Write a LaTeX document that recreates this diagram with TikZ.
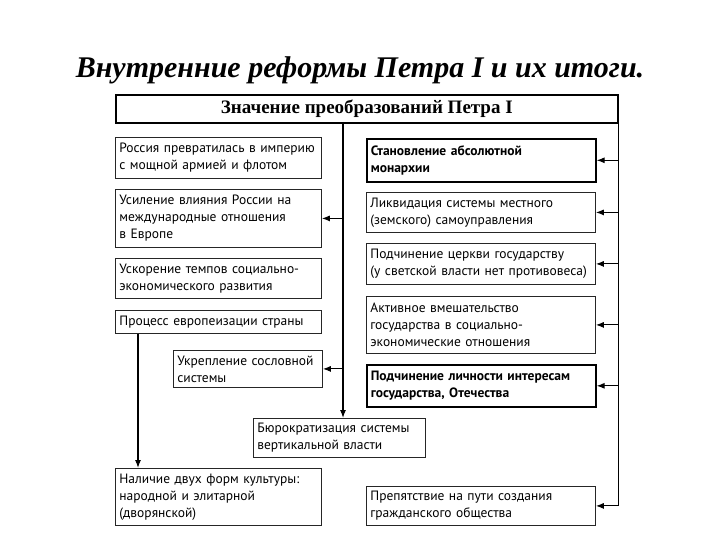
\documentclass[tikz,border=0pt]{standalone}
\usepackage{fontspec}
\setmainfont{Liberation Serif}
\newfontfamily\boxfont{PT Sans}
\usetikzlibrary{arrows.meta}

\begin{document}
\begin{tikzpicture}[x=1pt,y=-1pt]
\tikzset{>={Latex[length=8pt,width=6pt]}}
\tikzset{
  box/.style={draw=black!85, line width=0.8pt, anchor=north west, align=left,
    inner xsep=4pt, inner ysep=1pt, font=\boxfont\fontsize{13.5}{17}\selectfont},
  boldbox/.style={box, draw=black, line width=1.6pt,
    font=\boxfont\bfseries\fontsize{13.5}{17}\selectfont},
  link/.style={line width=1.1pt}
}
\useasboundingbox (0,0) rectangle (720,540);

\node[font=\bfseries\itshape\fontsize{30}{34}\selectfont] (title) at (360,70)
  {Внутренние реформы Петра I и их итоги.};

\node[draw, line width=1.6pt, anchor=north west, minimum width=502pt, minimum height=28pt,
  inner sep=0pt, font=\bfseries\fontsize{19}{22}\selectfont] (head) at (115,94)
  {Значение преобразований Петра I};

% left column
\node[box, text width=198pt, minimum height=41pt] (l1) at (115,137)
  {Россия превратилась в империю\\с мощной армией и флотом};
\node[box, text width=198pt, minimum height=58pt] (l2) at (115,189)
  {Усиление влияния России на\\международные отношения\\в Европе};
\node[box, text width=198pt, minimum height=40pt] (l3) at (115,258)
  {Ускорение темпов социально-\\экономического развития};
\node[box, text width=198pt, minimum height=23pt] (l4) at (115,310)
  {Процесс европеизации страны};
\node[box, text width=141pt, minimum height=37pt] (ukr) at (173,350)
  {Укрепление сословной\\системы};
\node[box, text width=164pt, minimum height=39pt] (bur) at (253,418)
  {Бюрократизация системы\\вертикальной власти};
\node[box, text width=198pt, minimum height=57pt] (l5) at (115,468)
  {Наличие двух форм культуры:\\народной и элитарной\\(дворянской)};

% right column
\node[boldbox, text width=221pt, minimum height=43pt] (r1) at (366,138)
  {Становление абсолютной\\монархии};
\node[box, text width=221pt, minimum height=40pt] (r2) at (366,192)
  {Ликвидация системы местного\\(земского) самоуправления};
\node[box, text width=221pt, minimum height=41pt] (r3) at (366,243)
  {Подчинение церкви государству\\(у светской власти нет противовеса)};
\node[box, text width=221pt, minimum height=57pt] (r4) at (366,296)
  {Активное вмешательство\\государства в социально-\\экономические отношения};
\node[boldbox, text width=221pt, minimum height=42pt] (r5) at (366,364)
  {Подчинение личности интересам\\государства, Отечества};
\node[box, text width=221pt, minimum height=39pt] (r6) at (366,486)
  {Препятствие на пути создания\\гражданского общества};

% connectors
\coordinate (c) at (343,122);
\draw[link,->] (c) -- (c |- bur.north);
\draw[link,->] (c |- l2.east) -- (l2.east);
\draw[link,->] (c |- ukr.east) -- (ukr.east);

\draw[link] (head.south east) -- (head.south east |- r6.east);
\foreach \n in {r1,r2,r3,r4,r5,r6}
  \draw[link,->] (head.south east |- \n.east) -- (\n.east);

\coordinate (d) at ([xshift=23pt]l4.south west);
\draw[link,->] (d) -- (d |- l5.north);
\end{tikzpicture}
\end{document}
